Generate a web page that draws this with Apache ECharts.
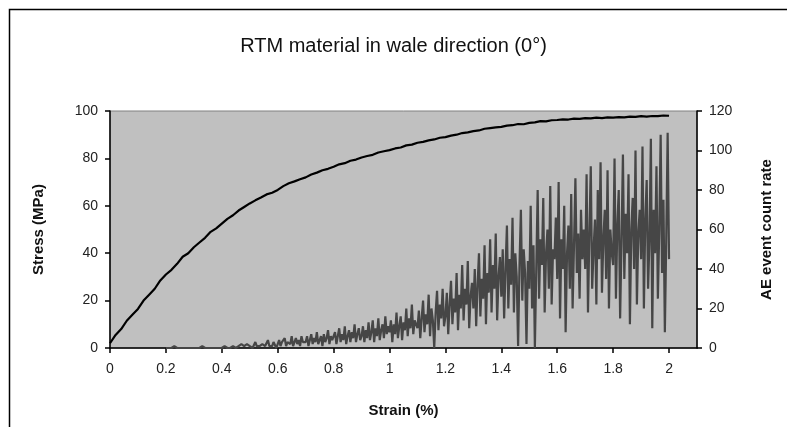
<!DOCTYPE html>
<html>
<head>
<meta charset="utf-8">
<script src="https://cdn.jsdelivr.net/npm/echarts@6/dist/echarts.min.js"></script>
<style>
	html, body { margin: 0; padding: 0; background: #fff; }
	#chart { width: 787px; height: 427px; }
</style>
</head>
<body>
<div id="chart"></div>
<script>
// strain spacing of the recorded samples (%)
var stressStep = 0.02;
var aeStart = 0.2;
var aeStep = 0.005;

// stress (MPa) every 0.02 % strain, 0 .. 2.0
var stress = [
	2, 5.5, 8, 11.5, 14, 16.5, 20, 22.5, 25, 28.5,
	31, 33, 35.5, 38.5, 40, 42.5, 44.5, 46.5, 49, 50.5,
	52.5, 54.5, 56, 58, 59.5, 61, 62.3, 63.5, 64.8, 65.5,
	66.7, 68.3, 69.5, 70.3, 71.2, 72, 73.2, 74, 75, 75.6,
	76.5, 77.5, 78, 79, 79.5, 80.4, 81, 81.5, 82.5, 83,
	83.5, 84.2, 84.6, 85.5, 85.8, 86.6, 87, 87.6, 88, 88.7,
	89, 89.6, 90, 90.7, 91, 91.5, 91.8, 92.5, 92.8, 93.1,
	93.3, 93.8, 94, 94.5, 94.4, 95, 95.2, 95.7, 95.6, 96.1,
	96.2, 96.5, 96.4, 96.8, 96.7, 97, 96.9, 97.2, 97, 97.3,
	97.2, 97.4, 97.3, 97.6, 97.5, 97.8, 97.6, 97.9, 97.8, 98.1,
	98
];

// AE event count rate every 0.005 % strain, 0.2 .. 2.0 (one row = 0.1 %)
var aeRate = [
	0, 0, 0, 0, 0, 0, 1, 0, 0, 0, 0, 0, 0, 0, 0, 0, 0, 0, 0, 0,
	0, 0, 0, 0, 0, 0, 1, 0, 0, 0, 0, 0, 0, 0, 0, 0, 0, 0, 0, 0,
	0, 0, 1, 0, 0, 1, 0, 0, 1, 1, 0, 1, 1, 0, 2, 1, 1, 0, 2, 1,
	1, 2, 0, 1, 3, 1, 2, 1, 0, 2, 3, 1, 2, 4, 1, 2, 1, 3, 2, 0,
	2, 4, 1, 3, 2, 5, 1, 3, 4, 2, 6, 1, 3, 5, 2, 4, 1, 6, 3, 2,
	3, 6, 1, 4, 7, 2, 5, 3, 8, 2, 4, 6, 1, 7, 3, 5, 9, 2, 6, 4,
	5, 8, 2, 6, 10, 3, 7, 4, 11, 2, 6, 9, 3, 8, 5, 12, 3, 7, 10, 4,
	6, 11, 3, 9, 5, 13, 4, 8, 14, 3, 10, 6, 15, 4, 9, 12, 5, 16, 7, 11,
	8, 14, 3, 12, 7, 18, 5, 11, 16, 4, 13, 9, 20, 6, 15, 10, 22, 7, 14, 12,
	10, 19, 5, 15, 24, 8, 17, 12, 27, 6, 20, 14, 0, 18, 29, 9, 22, 15, 30, 11,
	16, 28, 7, 22, 34, 12, 25, 18, 38, 9, 27, 20, 42, 14, 30, 22, 44, 10, 26, 33,
	20, 40, 11, 32, 48, 16, 35, 25, 52, 12, 38, 28, 55, 18, 42, 30, 58, 14, 36, 46,
	26, 50, 15, 40, 62, 20, 45, 32, 66, 18, 48, 36, 1, 42, 70, 24, 50, 38, 2, 44,
	30, 72, 20, 52, 0, 40, 80, 25, 55, 42, 76, 18, 48, 60, 30, 82, 22, 50, 45, 66,
	35, 84, 15, 55, 40, 72, 8, 48, 62, 30, 78, 20, 52, 86, 38, 58, 25, 70, 45, 60,
	40, 88, 18, 58, 92, 30, 50, 65, 22, 80, 45, 94, 28, 55, 70, 35, 90, 20, 60, 48,
	42, 96, 25, 62, 80, 15, 55, 98, 35, 68, 48, 88, 12, 60, 76, 40, 100, 22, 58, 70,
	45, 102, 20, 65, 85, 30, 55, 106, 10, 70, 48, 92, 25, 60, 108, 38, 75, 8, 55, 109,
	45
];

var stressTicks = [0, 20, 40, 60, 80, 100];
var aeTicks = [0, 20, 40, 60, 80, 100, 120];

var stressData = stress.map(function (v, i) { return [+(i * stressStep).toFixed(3), v]; });
var aeData = aeRate.map(function (v, i) { return [+(aeStart + i * aeStep).toFixed(3), v]; });

var font = 'Liberation Sans, Arial, sans-serif';

echarts.init(document.getElementById('chart')).setOption({
	animation: false,
	backgroundColor: '#fff',
	title: {
		text: 'RTM material in wale direction (0°)',
		left: 'center',
		top: 31,
		textStyle: { fontFamily: font, fontSize: 20, fontWeight: 'normal', color: '#111' }
	},
	graphic: [{
		type: 'rect',
		shape: { x: 9.5, y: 9.5, width: 800, height: 440 },
		style: { fill: 'none', stroke: '#000', lineWidth: 1.5 },
		silent: true
	}],
	grid: {
		left: 110, right: 90, top: 111, bottom: 79,
		show: true,
		backgroundColor: '#c0c0c0',
		borderColor: '#808080',
		borderWidth: 1
	},
	xAxis: {
		type: 'value',
		min: 0, max: 2.1, interval: 0.2,
		name: 'Strain (%)',
		nameLocation: 'middle',
		nameGap: 55,
		nameTextStyle: { fontFamily: font, fontSize: 15, fontWeight: 'bold', color: '#111' },
		axisLine: { onZero: false, lineStyle: { color: '#000', width: 1.5 } },
		axisTick: { length: 5, lineStyle: { color: '#000', width: 1.5 } },
		axisLabel: {
			showMaxLabel: false, margin: 14,
			fontFamily: font, fontSize: 14, color: '#222',
			formatter: function (v) { return String(+v.toFixed(1)); }
		},
		splitLine: { show: false }
	},
	yAxis: [{
		type: 'value',
		min: stressTicks[0], max: stressTicks[stressTicks.length - 1], interval: 20,
		name: 'Stress (MPa)',
		nameLocation: 'middle',
		nameGap: 64,
		nameTextStyle: { fontFamily: font, fontSize: 15, fontWeight: 'bold', color: '#111' },
		axisLine: { show: true, lineStyle: { color: '#000', width: 1.5 } },
		axisTick: { show: true, length: 5, lineStyle: { color: '#000', width: 1.5 } },
		axisLabel: { margin: 12, fontFamily: font, fontSize: 14, color: '#222' },
		splitLine: { show: false }
	}, {
		type: 'value',
		position: 'right',
		min: aeTicks[0], max: aeTicks[aeTicks.length - 1], interval: 20,
		name: 'AE event count rate',
		nameLocation: 'middle',
		nameGap: 62,
		nameRotate: 90,
		nameTextStyle: { fontFamily: font, fontSize: 15, fontWeight: 'bold', color: '#111' },
		axisLine: { show: true, lineStyle: { color: '#000', width: 1.5 } },
		axisTick: { show: true, length: 5, lineStyle: { color: '#000', width: 1.5 } },
		axisLabel: { margin: 12, fontFamily: font, fontSize: 14, color: '#222' },
		splitLine: { show: false }
	}],
	series: [{
		name: 'AE event count rate',
		type: 'line',
		yAxisIndex: 1,
		data: aeData,
		showSymbol: false,
		lineStyle: { color: '#464646', width: 2.2, join: 'bevel' },
		z: 2
	}, {
		name: 'Stress',
		type: 'line',
		yAxisIndex: 0,
		data: stressData,
		showSymbol: false,
		lineStyle: { color: '#000', width: 2.2 },
		z: 3
	}]
});
</script>
</body>
</html>
